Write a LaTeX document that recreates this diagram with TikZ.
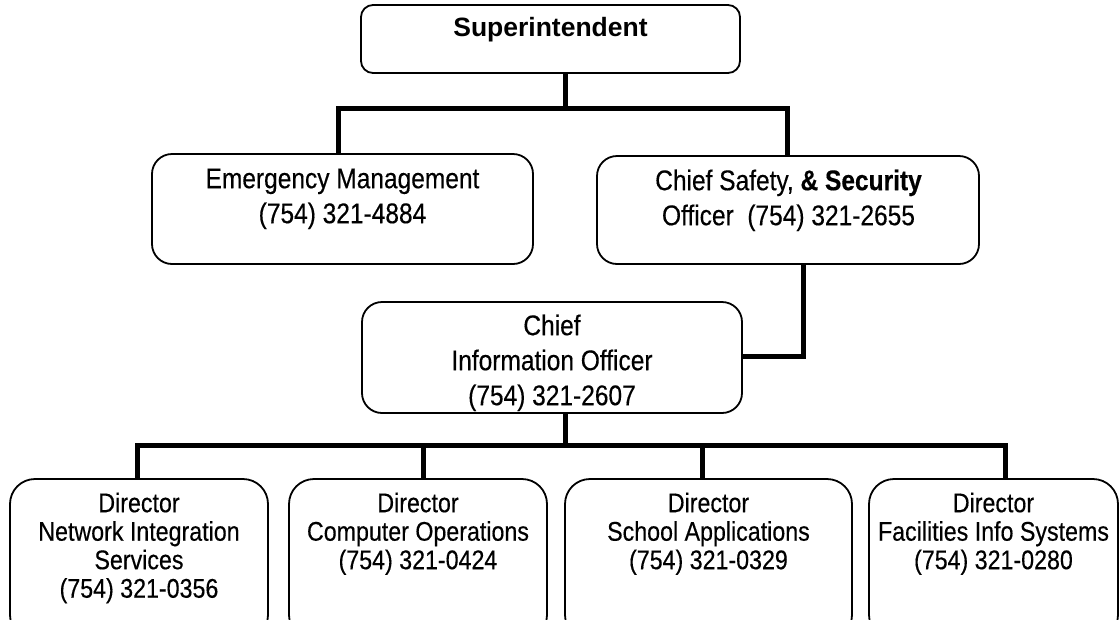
\documentclass[tikz,border=0pt]{standalone}
\usepackage{fontspec}
\setmainfont{Liberation Sans}
\newfontfamily\condensed[FakeStretch=0.86, FakeBold=0.35]{Liberation Sans}
\begin{document}
\begin{tikzpicture}[x=1pt, y=-1pt,
  box/.style={draw=black, line width=1.8pt, rounded corners=#1, inner sep=0pt},
  box/.default=20pt,
  wire/.style={draw=black, line width=5pt, line join=miter},
  txt/.style={inner sep=0pt, align=center, anchor=north},
  toptxt/.style={txt, font=\bfseries\fontsize{26.5}{32}\selectfont},
  midtxt/.style={txt, font=\condensed\fontsize{28.5}{35}\selectfont},
  lowtxt/.style={txt, font=\condensed\fontsize{27}{28.5}\selectfont}]
\useasboundingbox (0,0) rectangle (1120,619);
\begin{scope}
\clip (0,0) rectangle (1120,619);

% boxes
\node[box=12pt, minimum width=379pt, minimum height=68pt]  (sup) at (550.5,39) {};
\node[box, minimum width=381pt, minimum height=110pt] (em)  at (342.5,209) {};
\node[box, minimum width=382pt, minimum height=108pt] (cs)  at (788,210) {};
\node[box, minimum width=380pt, minimum height=111pt] (cio) at (552,357.5) {};
\node[box=25pt, minimum width=258pt, minimum height=161pt] (d1) at (139,559.5) {};
\node[box=25pt, minimum width=258pt, minimum height=161pt] (d2) at (418,559.5) {};
\node[box=25pt, minimum width=287pt, minimum height=161pt] (d3) at (708.5,559.5) {};
\node[box=25pt, minimum width=249pt, minimum height=161pt] (d4) at (993.5,559.5) {};

% texts
\node[toptxt] (sup-t) at (550.5,15.5) {\rule{0pt}{.8em}Superintendent};
\node[midtxt] (em-t) at (342.5,165.2) {\rule{0pt}{.8em}Emergency Management\\(754) 321-4884};
\node[midtxt] (cs-t) at (788.5,167.2) {\rule{0pt}{.8em}Chief Safety, \textbf{\& Security}\\Officer~~(754) 321-2655};
\node[midtxt] (cio-t) at (552,312.2) {\rule{0pt}{.8em}Chief\\Information Officer\\(754) 321-2607};
\node[lowtxt] (d1-t) at (139,490.4) {\rule{0pt}{.8em}Director\\Network Integration\\Services\\(754) 321-0356};
\node[lowtxt] (d2-t) at (418,490.4) {\rule{0pt}{.8em}Director\\Computer Operations\\(754) 321-0424};
\node[lowtxt] (d3-t) at (708.5,490.4) {\rule{0pt}{.8em}Director\\School Applications\\(754) 321-0329};
\node[lowtxt] (d4-t) at (993.5,490.4) {\rule{0pt}{.8em}Director\\Facilities Info Systems\\(754) 321-0280};

% bus points
\coordinate (topmid) at (565,108);
\coordinate (topl) at (338,108);
\coordinate (topr) at (787,108);
\coordinate (csdrop) at (803,356);
\coordinate (ciodrop) at (565,445);
\coordinate (b1) at (137.5,445);
\coordinate (b2) at (423,445);
\coordinate (b3) at (702,445);
\coordinate (b4) at (1005,445);

% connectors
\draw[wire] (sup.south -| topmid) -- (topmid);
\draw[wire] (em.north -| topl) -- (topl) -- (topr) -- (cs.north -| topr);
\draw[wire] (cs.south -| csdrop) -- (csdrop) -- (cio.east |- csdrop);
\draw[wire] (cio.south -| ciodrop) -- (ciodrop);
\draw[wire] (d1.north -| b1) -- (b1) -- (b4) -- (d4.north -| b4);
\draw[wire] (b2) -- (d2.north -| b2);
\draw[wire] (b3) -- (d3.north -| b3);
\end{scope}
\end{tikzpicture}
\end{document}
